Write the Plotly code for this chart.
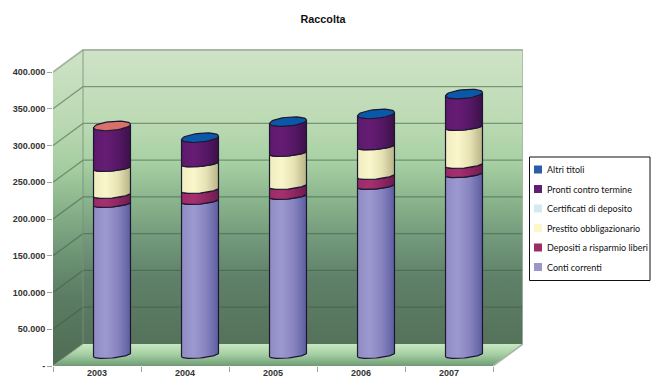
import numpy as np
import plotly.graph_objects as go

# Deposits by year, stacked bottom to top
years = [2003, 2004, 2005, 2006, 2007]
conti_correnti = [205400, 209500, 216300, 230000, 246000]
depositi_liberi = [12300, 15000, 13600, 13500, 12500]
prestito_obbligazionario = [36700, 36000, 44900, 40200, 51700]
certificati_deposito = [0, 0, 0, 0, 0]
pronti_termine = [57200, 35100, 42600, 44200, 44800]
altri_titoli = [0, 0, 0, 0, 0]
tick_values = [0, 50000, 100000, 150000, 200000, 250000, 300000, 350000, 400000]
tick_labels = ["-", "50.000", "100.000", "150.000", "200.000", "250.000", "300.000", "350.000", "400.000"]
legend_names = ["Altri titoli", "Pronti contro termine", "Certificati di deposito",
                "Prestito obbligazionario", "Depositi a risparmio liberi", "Conti correnti"]
legend_colors = ["#2a5fa8", "#5f1f73", "#d4eaf0", "#fbf7c8", "#9a2f68", "#9a96c8"]
cap_colors = ["#d8706c", "#0b58a8", "#0b58a8", "#0b58a8", "#0b58a8"]

series = [
    (conti_correnti, ["#8f8cc4", "#9c98d0", "#8683bf", "#5d5da0"]),
    (depositi_liberi, ["#9c2a68", "#a53070", "#8e2662", "#6f1c4e"]),
    (prestito_obbligazionario, ["#f0ecbe", "#faf6cc", "#e6e2b4", "#b8b488"]),
    (certificati_deposito, ["#d4eaf0", "#e0f0f4", "#cfe4ea", "#a6bcc4"]),
    (pronti_termine, ["#5c1a6c", "#661c74", "#561866", "#3c1048"]),
    (altri_titoli, ["#2a5fa8", "#2f68b4", "#275a9e", "#1c4278"]),
]

# Oblique box: depth expressed in axis units
X0 = 2002.5
X1 = 2007.5
DX = 0.341
DY = 30000
TOP = 400000
XMAX = X0 + 470 / 88
YMAX = (366 - 40) / 36.75 * 50000

# Cylinder proportions in axis units
RX = 0.21
RY_CAP = 6100
RY_BAND = 4100
TILT = 2300


def polygon(xs, ys, scale, orientation="vertical", line=None, width=1.0, start=None, stop=None):
    grad = dict(type=orientation, colorscale=scale)
    if start is not None:
        grad.update(start=start, stop=stop)
    fig.add_trace(go.Scatter(
        x=list(xs) + [xs[0]], y=list(ys) + [ys[0]], mode="lines", fill="toself",
        fillgradient=grad,
        line=dict(color=line or "rgba(0,0,0,0)", width=width),
        hoverinfo="skip", showlegend=False,
    ))


def even(colors):
    return [[i / (len(colors) - 1), c] for i, c in enumerate(colors)]


def seg(xs, ys, color, width=1.2):
    fig.add_trace(go.Scatter(x=xs, y=ys, mode="lines", line=dict(color=color, width=width),
                             hoverinfo="skip", showlegend=False))


def arc(cx, base, t0, t1, ry):
    t = np.linspace(t0, t1, 41)
    return cx + RX * np.cos(t), base + TILT * np.cos(t) + ry * np.sin(t)


fig = go.Figure()

back_scale = [[0, "#55725a"], [0.22, "#5f8068"], [0.35, "#71977a"], [0.49, "#8ab48c"],
              [0.62, "#a8d0a4"], [0.76, "#bcdab4"], [1, "#cfe3c6"]]
side_scale = [[0, "#4f6c54"], [0.22, "#5b7c63"], [0.35, "#6d9375"], [0.49, "#86b088"],
              [0.62, "#a4cca0"], [0.76, "#b9d8b2"], [1, "#cfe3c6"]]
# Back wall, side wall, floor
polygon([X0 + DX, X1 + DX, X1 + DX, X0 + DX], [DY, DY, TOP + DY, TOP + DY], back_scale)
polygon([X0, X0 + DX, X0 + DX, X0], [0, DY, TOP + DY, TOP], side_scale)
polygon([X0, X1, X1 + DX, X0 + DX], [0, 0, DY, DY], even(["#6f9b74", "#a2cda1", "#c9e8c2"]))

# Gridlines run across the side wall and along the back wall
for v in tick_values[1:]:
    seg([X0, X0 + DX, X1 + DX], [v, v + DY, v + DY], "rgba(62,92,66,0.55)", 1.2)

# Box edges
seg([X0, X0 + DX, X1 + DX, X1 + DX, X1], [TOP, TOP + DY, TOP + DY, DY, 0], "#a6b6a2", 1.6)
seg([X0 + DX, X0 + DX], [DY, TOP + DY], "rgba(120,145,120,0.7)", 1.2)
seg([X0, X0 + DX], [0, DY], "#8fa18f", 1.0)

# Stacked cylinders
for i, year in enumerate(years):
    cx = year + DX / 2
    base = DY / 2
    for values, colors in series:
        h = values[i]
        if h <= 0:
            continue
        bx, by = arc(cx, base, np.pi, 2 * np.pi, RY_BAND)
        tx, ty = arc(cx, base + h, 2 * np.pi, np.pi, RY_BAND)
        polygon(list(bx) + list(tx), list(by) + list(ty), even(colors), orientation="horizontal",
                line="#1c1830", width=1.2, start=cx - RX, stop=cx + RX)
        base += h
    ex, ey = arc(cx, base, 0, 2 * np.pi, RY_CAP)
    polygon(list(ex), list(ey), even([cap_colors[i], cap_colors[i]]), orientation="horizontal",
            line="#1c1830", width=1.2)


def px(x):
    return (x - 53) / 470


def py(y):
    return (366 - y) / 326


# Key on the right
shapes = [dict(type="rect", xref="paper", yref="paper", x0=px(529.5), x1=px(650), y0=py(157), y1=py(280.5),
               line=dict(color="#111111", width=1), fillcolor="#ffffff", layer="above")]
annotations = []
for k, (name, color) in enumerate(zip(legend_names, legend_colors)):
    row = 169.5 + k * 19.5
    shapes.append(dict(type="rect", xref="paper", yref="paper", x0=px(534), x1=px(542),
                       y0=py(row - 4), y1=py(row + 4), line=dict(width=0), fillcolor=color, layer="above"))
    annotations.append(dict(xref="paper", yref="paper", x=px(545.5), y=py(row), text=name, showarrow=False,
                            xanchor="left", yanchor="middle", borderpad=0,
                            font=dict(family="Lato", size=9, color="#111111")))

fig.update_layout(
    width=651, height=381, autosize=False,
    margin=dict(l=53, r=128, t=40, b=15, autoexpand=False),
    paper_bgcolor="#ffffff", plot_bgcolor="#ffffff",
    showlegend=False,
    title=dict(text="Raccolta", x=323 / 651, xanchor="center", y=1 - 19 / 381, yanchor="middle",
               font=dict(family="Liberation Sans", size=10.8, color="#111111", weight=700)),
    xaxis=dict(range=[X0, XMAX], tickmode="array", tickvals=years, ticktext=[str(y) for y in years],
               ticks="", showgrid=False, zeroline=False, showline=False, ticklen=0,
               tickfont=dict(family="Liberation Sans", size=9, color="#333333", weight=700),
               minor=dict(tickmode="array", tickvals=[X0 + i for i in range(6)], ticks="outside",
                          ticklen=5, tickcolor="#9aa69a", tickwidth=1, showgrid=False)),
    yaxis=dict(range=[0, YMAX], tickmode="array", tickvals=tick_values, ticktext=tick_labels,
               ticks="outside", ticklen=5, tickcolor="#9aa69a", showgrid=False, zeroline=False,
               showline=False, ticklabelstandoff=0,
               tickfont=dict(family="Liberation Sans", size=9, color="#333333", weight=700)),
    shapes=shapes, annotations=annotations,
)
fig.write_html("out.html")
